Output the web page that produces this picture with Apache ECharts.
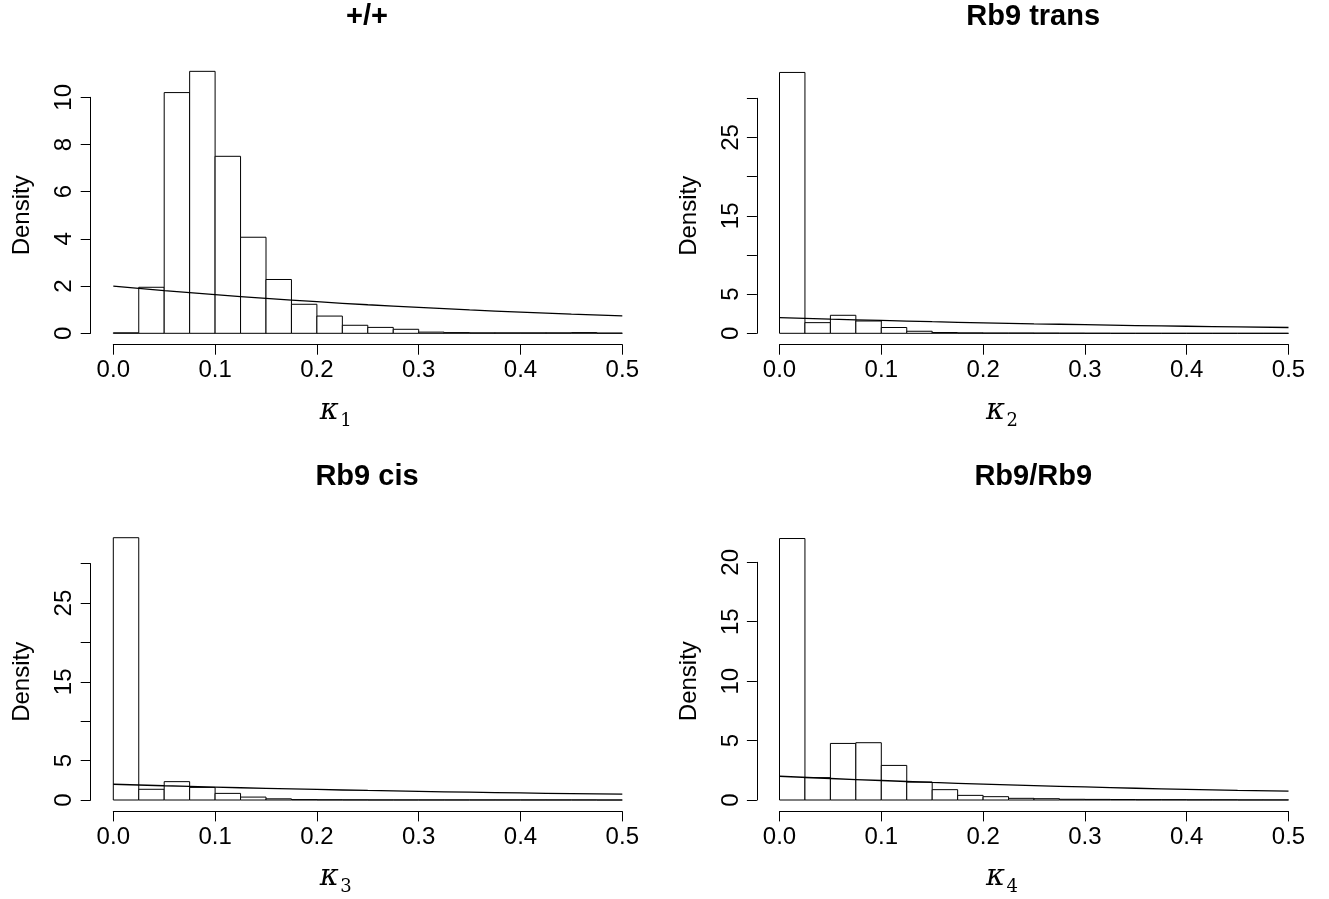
<!DOCTYPE html>
<html>
<head>
<meta charset="utf-8">
<script src="https://cdn.jsdelivr.net/npm/echarts@6/dist/echarts.min.js"></script>
<style>
  html, body { margin: 0; padding: 0; background: #fff; }
  #chart { width: 1329px; height: 899px; }
</style>
</head>
<body>
<div id="chart"></div>
<script>
// histogram bins (left edges), width 0.025
const binStarts = [0, 0.025, 0.05, 0.075, 0.1, 0.125, 0.15, 0.175, 0.2, 0.225,
  0.25, 0.275, 0.3, 0.325, 0.35, 0.375, 0.4, 0.425, 0.45, 0.475];
const binWidth = 0.025;

// density per bin
const densityWT = [0.02, 1.95, 10.2, 11.1, 7.5, 4.07, 2.28, 1.23, 0.73, 0.34,
  0.25, 0.17, 0.05, 0.03, 0.02, 0.02, 0.02, 0.02, 0.03, 0.01];
const densityTrans = [33.3, 1.36, 2.3, 1.57, 0.74, 0.26, 0.1, 0.06, 0.04, 0.04,
  0.03, 0.02, 0.01, 0, 0, 0, 0, 0, 0, 0];
const densityCis = [33.3, 1.36, 2.33, 1.6, 0.84, 0.37, 0.15, 0.05, 0.03, 0.02,
  0.01, 0.01, 0.01, 0.01, 0.01, 0.01, 0.01, 0.01, 0.01, 0];
const densityHomo = [22.0, 1.88, 4.76, 4.82, 2.91, 1.51, 0.87, 0.39, 0.28, 0.14,
  0.11, 0.06, 0.05, 0.04, 0.03, 0.03, 0.02, 0.02, 0.01, 0.01];

// overlaid curve
const curveX = [0, 0.05, 0.1, 0.15, 0.2, 0.25, 0.3, 0.35, 0.4, 0.45, 0.5];
const curveY = [2.0, 1.81, 1.64, 1.48, 1.34, 1.21, 1.1, 0.99, 0.9, 0.81, 0.74];

const panels = [
  { title: '+/+', sub: '1', dens: densityWT, yMax: 10, yStep: 2, yShow: [0, 2, 4, 6, 8, 10],
    left: 113.3, top: 97.3, bottom0: 333.3, titleY: 17 },
  { title: 'Rb9 trans', sub: '2', dens: densityTrans, yMax: 30, yStep: 5, yShow: [0, 5, 15, 25],
    left: 779.5, top: 98.3, bottom0: 333.3, titleY: 17 },
  { title: 'Rb9 cis', sub: '3', dens: densityCis, yMax: 30, yStep: 5, yShow: [0, 5, 15, 25],
    left: 113.3, top: 563.7, bottom0: 800, titleY: 477 },
  { title: 'Rb9/Rb9', sub: '4', dens: densityHomo, yMax: 20, yStep: 5, yShow: [0, 5, 10, 15, 20],
    left: 779.5, top: 562.3, bottom0: 800, titleY: 477 }
];
const plotW = 509;
const font = 'Liberation Sans, Arial, Helvetica, sans-serif';

const grid = [], xAxis = [], yAxis = [], series = [], graphic = [];

panels.forEach((p, i) => {
  grid.push({ left: p.left, top: p.top, width: plotW, height: p.bottom0 - p.top });
  xAxis.push({
    gridIndex: i, type: 'value', min: 0, max: 0.5, interval: 0.1, offset: 11.4,
    axisLine: { onZero: false, lineStyle: { color: '#000', width: 1 } },
    axisTick: { length: 10, lineStyle: { color: '#000' } },
    splitLine: { show: false },
    axisLabel: { color: '#000', fontSize: 24, fontFamily: font, margin: 14,
      formatter: v => v.toFixed(1) }
  });
  yAxis.push({
    gridIndex: i, type: 'value', min: 0, max: p.yMax, interval: p.yStep, offset: 22.6,
    name: 'Density', nameLocation: 'middle', nameGap: 56,
    nameTextStyle: { color: '#000', fontSize: 24, fontFamily: font },
    axisLine: { show: true, onZero: false, lineStyle: { color: '#000', width: 1 } },
    axisTick: { show: true, length: 10, lineStyle: { color: '#000' } },
    splitLine: { show: false },
    axisLabel: { color: '#000', fontSize: 24, fontFamily: font, margin: 14, rotate: 90,
      formatter: v => (p.yShow.indexOf(v) >= 0 ? String(v) : '') }
  });
  series.push({
    type: 'custom', xAxisIndex: i, yAxisIndex: i, clip: false, z: 2,
    data: binStarts.map((b, k) => [b, b + binWidth, p.dens[k]]),
    encode: { x: [0, 1], y: 2 },
    renderItem: (params, api) => {
      const a = api.coord([api.value(0), 0]);
      const b = api.coord([api.value(1), api.value(2)]);
      return {
        type: 'rect',
        shape: { x: a[0], y: b[1], width: b[0] - a[0], height: a[1] - b[1] },
        style: { fill: '#fff', stroke: '#000', lineWidth: 1 }
      };
    }
  });
  series.push({
    type: 'line', xAxisIndex: i, yAxisIndex: i, z: 3, smooth: true, symbol: 'none',
    data: curveX.map((x, k) => [x, curveY[k]]),
    lineStyle: { color: '#000', width: 1.3 }
  });

  const dy = p.bottom0 - 333.3;
  graphic.push({
    type: 'text', x: p.left + 253.7, y: p.titleY,
    style: { text: p.title, font: 'bold 29px ' + font, fill: '#000',
      textAlign: 'center', textVerticalAlign: 'middle' }
  });
  graphic.push({
    type: 'text', x: p.left + 216, y: 411 + dy,
    style: { text: 'κ', font: 'italic 29px "DejaVu Serif", "Liberation Serif", serif', fill: '#000',
      textAlign: 'center', textVerticalAlign: 'middle' }
  });
  graphic.push({
    type: 'text', x: p.left + 227, y: 421 + dy,
    style: { text: p.sub, font: '18px "DejaVu Serif", "Liberation Serif", serif', fill: '#000',
      textAlign: 'left', textVerticalAlign: 'middle' }
  });
});

const chart = echarts.init(document.getElementById('chart'), null, { renderer: 'canvas' });
chart.setOption({
  animation: false,
  backgroundColor: '#fff',
  grid, xAxis, yAxis, series, graphic
});
</script>
</body>
</html>
